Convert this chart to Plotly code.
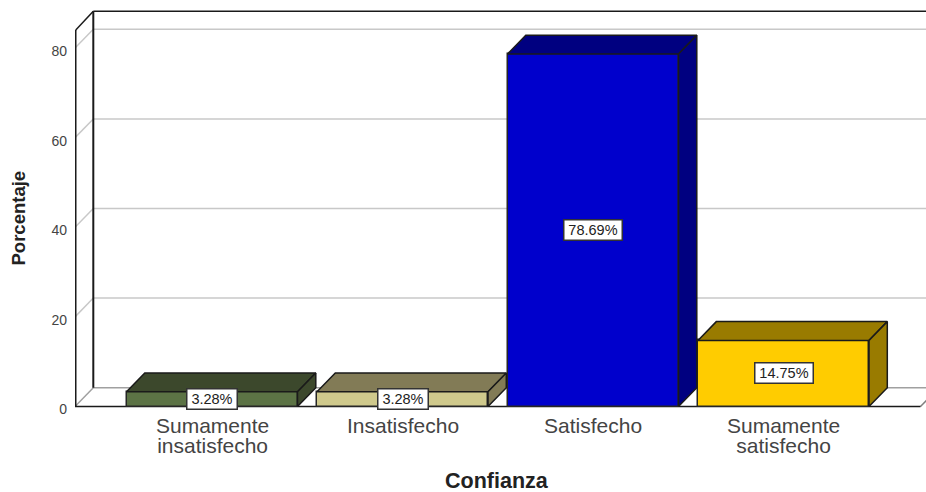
import plotly.graph_objects as go

categories = ["Sumamente\ninsatisfecho", "Insatisfecho", "Satisfecho", "Sumamente\nsatisfecho"]
percentages = [3.28, 3.28, 78.69, 14.75]
front_colors = ["#5C7345", "#CFC98C", "#0000CC", "#FFCC00"]
shade_colors = ["#3C482C", "#827B56", "#000080", "#997B00"]
y_ticks = [0, 20, 40, 60, 80]
x_title = "Confianza"
y_title = "Porcentaje"

W, H = 926, 492
ML, MT, MB = 75, 5, 82
Y0_PX, PX_PER_Y = 406.5, 4.48
CENTER0_PX, PX_PER_CAT = 212.0, 190.5
DX = 18.3 / PX_PER_CAT
DY = 18.8 / PX_PER_Y
BAR_W = 171 / PX_PER_CAT
XMIN = (ML - CENTER0_PX) / PX_PER_CAT
XMAX = (W - CENTER0_PX) / PX_PER_CAT
YMIN = (Y0_PX - (H - MB)) / PX_PER_Y
YMAX = (Y0_PX - MT) / PX_PER_Y
FLOOR_R = (920.5 - CENTER0_PX) / PX_PER_CAT
WALL_TOP = (Y0_PX - 30) / PX_PER_Y

fig = go.Figure()
positions = list(range(len(categories)))

# Bar fronts
fig.add_trace(go.Bar(
    x=positions, y=percentages, width=BAR_W,
    marker=dict(color=front_colors, line=dict(color="#262626", width=1.5)),
    showlegend=False, hoverinfo="skip",
))

# Bar tops and sides
for p, v, c in zip(positions, percentages, shade_colors):
    l, r = p - BAR_W / 2, p + BAR_W / 2
    fig.add_trace(go.Scatter(
        x=[l, r, r + DX, l + DX, l], y=[v, v, v + DY, v + DY, v],
        mode="lines", fill="toself", fillcolor=c,
        line=dict(color="#1a1a1a", width=1.5), showlegend=False, hoverinfo="skip",
    ))
    fig.add_trace(go.Scatter(
        x=[r, r + DX, r + DX, r, r], y=[0, DY, v + DY, v, 0],
        mode="lines", fill="toself", fillcolor=c,
        line=dict(color="#1a1a1a", width=1.5), showlegend=False, hoverinfo="skip",
    ))


def seg(x0, y0, x1, y1, color, width):
    return dict(type="line", xref="x", yref="y", x0=x0, y0=y0, x1=x1, y1=y1,
                layer="below", line=dict(color=color, width=width))


GRID = "#C8C8C8"
FRAME = "#1a1a1a"
shapes = []
for t in y_ticks[1:]:
    shapes.append(seg(XMIN, t, XMIN + DX, t + DY, GRID, 1.5))
    shapes.append(seg(XMIN + DX, t + DY, XMAX, t + DY, GRID, 1.5))
# floor
shapes.append(seg(XMIN, 0, XMIN + DX, DY, "#A0A0A0", 1.5))
shapes.append(seg(XMIN + DX, DY, XMAX, DY, "#A0A0A0", 1.5))
shapes.append(seg(FLOOR_R, 0, FLOOR_R + DX, DY, "#808080", 1.5))
shapes.append(seg(XMIN, 0, FLOOR_R, 0, FRAME, 1.5))
# frame
shapes.append(seg(XMIN + 0.004, 0, XMIN + 0.004, WALL_TOP, FRAME, 1.5))
shapes.append(seg(XMIN + DX, DY, XMIN + DX, WALL_TOP + DY, FRAME, 2))
shapes.append(seg(XMIN + 0.004, WALL_TOP, XMIN + DX, WALL_TOP + DY, FRAME, 1.5))
shapes.append(seg(XMIN + DX, WALL_TOP + DY, XMAX, WALL_TOP + DY, FRAME, 1.5))

annotations = []
# Value labels
for p, v in zip(positions, percentages):
    label = f"{v:.2f}%"
    annotations.append(dict(
        x=p, y=v / 2, xref="x", yref="y", text=label, showarrow=False,
        width=8 * len(label) + 9, height=19, align="center", valign="middle",
        font=dict(family="Liberation Sans", size=14.5, color="#222222"),
        bgcolor="white", bordercolor="#333333", borderwidth=1.5, borderpad=0,
    ))
# Category labels: small base font sets the tight leading, spans set the glyph size
for p, c in zip(positions, categories):
    lines = [f'<span style="font-size:21px">{t}</span>' for t in c.split("\n")]
    annotations.append(dict(
        x=p, y=0, xref="x", yref="y", text="<br>".join(lines), showarrow=False,
        xanchor="center", yanchor="top", yshift=-6, align="center", borderpad=0,
        font=dict(family="Liberation Sans", size=15.4, color="#444444"),
    ))
# Axis titles
annotations.append(dict(
    x=(497 - ML) / (W - ML), y=(H - MB - 480.5) / (H - MB - MT),
    xref="paper", yref="paper", xanchor="center", yanchor="middle",
    text=f"<b>{x_title}</b>", showarrow=False, borderpad=0,
    font=dict(family="Liberation Sans", size=21.5, color="#222222"),
))
annotations.append(dict(
    x=(17.5 - ML) / (W - ML), y=(H - MB - 218) / (H - MB - MT),
    xref="paper", yref="paper", xanchor="center", yanchor="middle", textangle=-90,
    text=f"<b>{y_title}</b>", showarrow=False,
    font=dict(family="Liberation Sans", size=18.5, color="#222222"),
))

fig.update_layout(
    width=W, height=H, autosize=False,
    margin=dict(l=ML, r=0, t=MT, b=MB, pad=0),
    paper_bgcolor="white", plot_bgcolor="white",
    shapes=shapes, annotations=annotations, bargap=0,
    xaxis=dict(range=[XMIN, XMAX], showgrid=False, zeroline=False, showticklabels=False,
               ticks="", showline=False, automargin=False),
    yaxis=dict(range=[YMIN, YMAX], tickvals=y_ticks, showgrid=False, zeroline=False,
               showline=False, ticks="", automargin=False, ticklabelstandoff=7, ticklabelshift=3,
               tickfont=dict(family="Liberation Sans", size=14, color="#444444")),
)

fig.write_html("out.html", config={"displayModeBar": False},
               post_script="document.body.style.margin='0';document.body.style.overflow='hidden';")
